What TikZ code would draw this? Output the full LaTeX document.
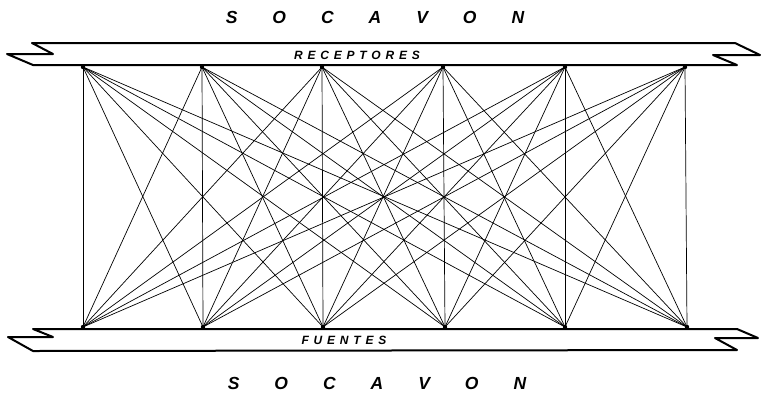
\documentclass[tikz,border=0pt]{standalone}
\usepackage{fontspec}
\setmainfont{Liberation Sans}
\usepackage{tikz}

\tikzset{
  band/.style={line width=2pt, line join=round},
  ray/.style={line width=0.7pt},
  lbl/.style={font=\bfseries\itshape\fontsize{17.5}{17.5}\selectfont, inner sep=0pt},
  bandlbl/.style={font=\bfseries\itshape\fontsize{12}{12}\selectfont, inner sep=0pt}
}
\newcommand{\gap}{\hspace{35pt}}

\begin{document}
\begin{tikzpicture}[x=1pt, y=-1pt]
    \useasboundingbox (0,0) rectangle (763,392);

    % Tunnel bands
    \draw[band] (32,43) -- (735,43) -- (760,55) -- (713,55) -- (737,65)
        -- (33,65) -- (7,54) -- (53,54) -- cycle;
    \draw[band] (33,329) -- (737,329) -- (758,338) -- (715,338) -- (737,350)
        -- (33,351) -- (8,337) -- (53,337) -- cycle;

    % Labels
    \node[lbl] (topsoc) at (375,17) {S\gap O\gap C\gap A\gap V\gap O\gap N};
    \node[lbl] (botsoc) at (377,383) {S\gap O\gap C\gap A\gap V\gap O\gap N};
    \node[bandlbl] (rec) at (357,55) {\addfontfeature{LetterSpace=40}RECEPTORES};
    \node[bandlbl] (fue) at (344,340) {\addfontfeature{LetterSpace=40}FUENTES};

    % Receivers and sources
    \foreach \i/\x in {1/83,2/202,3/322,4/443,5/565,6/685}
        \coordinate (r\i) at (\x,67);
    \foreach \i/\x in {1/83,2/203,3/323,4/445,5/565,6/687}
        \coordinate (f\i) at (\x,327);

    % Ray paths
    \foreach \i in {1,...,6}
        \foreach \j in {1,...,6}
            \draw[ray] (r\i) -- (f\j);
    \foreach \i in {1,...,6} {
        \fill (r\i) circle (2.2pt);
        \fill (f\i) circle (2.2pt);
    }
\end{tikzpicture}
\end{document}
